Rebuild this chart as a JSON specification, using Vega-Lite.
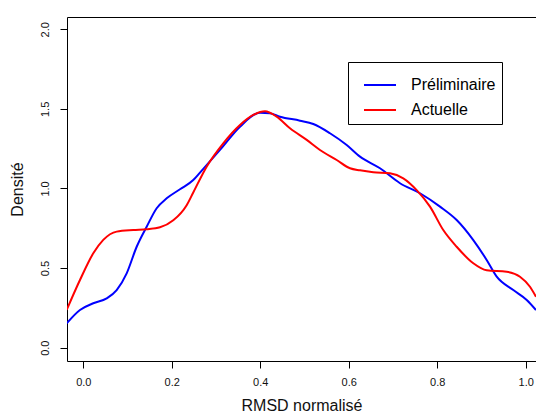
{
  "$schema": "https://vega.github.io/schema/vega-lite/v6.json",
  "autosize": {"type": "none"},
  "padding": {"left": 67, "top": 17, "right": 0, "bottom": 56},
  "width": 469,
  "height": 344,
  "background": "white",
  "config": {
    "view": {"stroke": null},
    "font": "Liberation Sans",
    "axis": {"grid": false, "domainColor": "black", "tickColor": "black", "labelColor": "#111", "titleColor": "#111", "labelFont": "Liberation Sans", "titleFont": "Liberation Sans", "titleFontWeight": "normal", "labelFontSize": 11, "titleFontSize": 16, "tickSize": 7, "domainWidth": 1, "tickWidth": 1}
  },
  "data": {"values": [
    {"x": -0.0375, "d": 0.153, "s": "Préliminaire"},
    {"x": -0.0075, "d": 0.237, "s": "Préliminaire"},
    {"x": 0.0226, "d": 0.279, "s": "Préliminaire"},
    {"x": 0.0529, "d": 0.31, "s": "Préliminaire"},
    {"x": 0.0755, "d": 0.362, "s": "Préliminaire"},
    {"x": 0.0981, "d": 0.467, "s": "Préliminaire"},
    {"x": 0.1207, "d": 0.634, "s": "Préliminaire"},
    {"x": 0.1433, "d": 0.76, "s": "Préliminaire"},
    {"x": 0.1659, "d": 0.876, "s": "Préliminaire"},
    {"x": 0.1885, "d": 0.938, "s": "Préliminaire"},
    {"x": 0.2186, "d": 0.995, "s": "Préliminaire"},
    {"x": 0.2486, "d": 1.053, "s": "Préliminaire"},
    {"x": 0.2638, "d": 1.1, "s": "Préliminaire"},
    {"x": 0.309, "d": 1.242, "s": "Préliminaire"},
    {"x": 0.3542, "d": 1.388, "s": "Préliminaire"},
    {"x": 0.3994, "d": 1.476, "s": "Préliminaire"},
    {"x": 0.422, "d": 1.472, "s": "Préliminaire"},
    {"x": 0.4446, "d": 1.451, "s": "Préliminaire"},
    {"x": 0.4898, "d": 1.426, "s": "Préliminaire"},
    {"x": 0.5199, "d": 1.405, "s": "Préliminaire"},
    {"x": 0.5576, "d": 1.347, "s": "Préliminaire"},
    {"x": 0.5954, "d": 1.273, "s": "Préliminaire"},
    {"x": 0.6255, "d": 1.2, "s": "Préliminaire"},
    {"x": 0.6707, "d": 1.127, "s": "Préliminaire"},
    {"x": 0.7159, "d": 1.033, "s": "Préliminaire"},
    {"x": 0.7611, "d": 0.97, "s": "Préliminaire"},
    {"x": 0.8063, "d": 0.886, "s": "Préliminaire"},
    {"x": 0.844, "d": 0.802, "s": "Préliminaire"},
    {"x": 0.8816, "d": 0.676, "s": "Préliminaire"},
    {"x": 0.9118, "d": 0.551, "s": "Préliminaire"},
    {"x": 0.9345, "d": 0.446, "s": "Préliminaire"},
    {"x": 0.972, "d": 0.362, "s": "Préliminaire"},
    {"x": 1.0023, "d": 0.3, "s": "Préliminaire"},
    {"x": 1.0233, "d": 0.237, "s": "Préliminaire"},
    {"x": -0.0375, "d": 0.237, "s": "Actuelle"},
    {"x": -0.0075, "d": 0.425, "s": "Actuelle"},
    {"x": 0.0226, "d": 0.593, "s": "Actuelle"},
    {"x": 0.0452, "d": 0.677, "s": "Actuelle"},
    {"x": 0.0755, "d": 0.729, "s": "Actuelle"},
    {"x": 0.113, "d": 0.739, "s": "Actuelle"},
    {"x": 0.1433, "d": 0.744, "s": "Actuelle"},
    {"x": 0.1734, "d": 0.756, "s": "Actuelle"},
    {"x": 0.2034, "d": 0.8, "s": "Actuelle"},
    {"x": 0.2337, "d": 0.895, "s": "Actuelle"},
    {"x": 0.2486, "d": 0.975, "s": "Actuelle"},
    {"x": 0.2788, "d": 1.137, "s": "Actuelle"},
    {"x": 0.3164, "d": 1.284, "s": "Actuelle"},
    {"x": 0.3542, "d": 1.399, "s": "Actuelle"},
    {"x": 0.3843, "d": 1.462, "s": "Actuelle"},
    {"x": 0.4107, "d": 1.485, "s": "Actuelle"},
    {"x": 0.4372, "d": 1.451, "s": "Actuelle"},
    {"x": 0.4672, "d": 1.378, "s": "Actuelle"},
    {"x": 0.505, "d": 1.305, "s": "Actuelle"},
    {"x": 0.535, "d": 1.242, "s": "Actuelle"},
    {"x": 0.5728, "d": 1.179, "s": "Actuelle"},
    {"x": 0.6029, "d": 1.127, "s": "Actuelle"},
    {"x": 0.6255, "d": 1.114, "s": "Actuelle"},
    {"x": 0.6555, "d": 1.102, "s": "Actuelle"},
    {"x": 0.6932, "d": 1.095, "s": "Actuelle"},
    {"x": 0.7233, "d": 1.064, "s": "Actuelle"},
    {"x": 0.7536, "d": 0.99, "s": "Actuelle"},
    {"x": 0.7837, "d": 0.886, "s": "Actuelle"},
    {"x": 0.8137, "d": 0.739, "s": "Actuelle"},
    {"x": 0.844, "d": 0.634, "s": "Actuelle"},
    {"x": 0.8816, "d": 0.53, "s": "Actuelle"},
    {"x": 0.9118, "d": 0.486, "s": "Actuelle"},
    {"x": 0.957, "d": 0.477, "s": "Actuelle"},
    {"x": 0.9871, "d": 0.446, "s": "Actuelle"},
    {"x": 1.0097, "d": 0.383, "s": "Actuelle"},
    {"x": 1.0233, "d": 0.32, "s": "Actuelle"}
  ]},
  "layer": [
    {
      "mark": {"type": "line", "strokeWidth": 2, "interpolate": "monotone", "clip": true},
      "encoding": {
        "x": {"field": "x", "type": "quantitative",
          "scale": {"domain": [-0.0368, 1.0233], "nice": false, "zero": false},
          "axis": {"orient": "bottom", "values": [0, 0.2, 0.4, 0.6, 0.8, 1.0], "format": ".1f", "title": "RMSD normalisé", "labelPadding": 8, "titlePadding": 10}},
        "y": {"field": "d", "type": "quantitative",
          "scale": {"domain": [-0.0835, 2.077], "nice": false, "zero": false},
          "axis": {"values": [0, 0.5, 1.0, 1.5, 2.0], "format": ".1f", "title": "Densité", "labelAngle": -90, "labelAlign": "center", "labelBaseline": "bottom", "labelPadding": 10, "titlePadding": 14}},
        "color": {"field": "s", "type": "nominal",
          "scale": {"domain": ["Préliminaire", "Actuelle"], "range": ["#0000FF", "#FF0000"]},
          "legend": {"title": null, "orient": "none", "legendX": 281, "legendY": 45, "symbolType": "stroke", "symbolSize": 1024, "symbolStrokeWidth": 2, "symbolOffset": 9, "labelFontSize": 16, "labelFont": "Liberation Sans", "labelColor": "black", "labelOffset": 14, "rowPadding": -9, "strokeColor": "black", "fillColor": "white", "padding": 6, "offset": 0}}
      }
    },
    {
      "mark": {"type": "line", "opacity": 0},
      "encoding": {
        "x": {"field": "x", "type": "quantitative", "axis": {"orient": "top", "labels": false, "ticks": false, "title": null, "domain": true}},
        "y": {"field": "d", "type": "quantitative"}
      }
    }
  ]
}
